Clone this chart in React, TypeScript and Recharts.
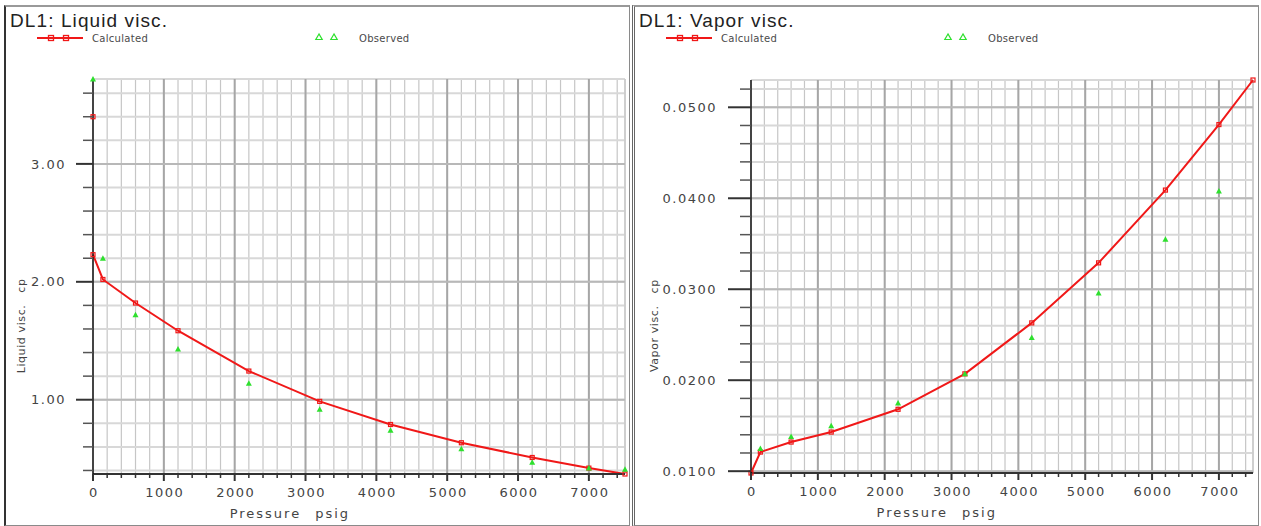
import React from 'react';
import { ComposedChart, Line, XAxis, YAxis, CartesianGrid, ReferenceLine } from 'recharts';

// pressure stations, psig
const PRESSURES = [0, 140, 600, 1200, 2200, 3200, 4200, 5200, 6200, 7000, 7510];

// liquid viscosity, cp
const LIQ_CALC = [2.23, 2.02, 1.82, 1.585, 1.243, 0.986, 0.79, 0.635, 0.51, 0.42, 0.37];
const LIQ_OBS = [3.72, 2.2, 1.72, 1.43, 1.14, 0.92, 0.74, 0.585, 0.47, 0.42, 0.41];
const LIQ_STOCK = 3.4; // calculated value at 0 psig, not joined to the curve

// vapor viscosity, cp
const VAP_CALC = [0.0098, 0.0121, 0.0132, 0.0143, 0.0168, 0.0207, 0.0263, 0.0329, 0.0409, 0.0481, 0.053];
const VAP_OBS = [null, 0.0125, 0.0138, 0.015, 0.0175, 0.0207, 0.0247, 0.0296, 0.0355, 0.0408, null];

// labelled ticks
const P_LABELS = [0, 1000, 2000, 3000, 4000, 5000, 6000, 7000];
const LIQ_LABELS = [1, 2, 3];
const VAP_LABELS = [0.01, 0.02, 0.03, 0.04, 0.05];

const range = (from: number, count: number, step: number) =>
  Array.from({ length: count }, (_, i) => +(from + i * step).toFixed(6));

// minor tick / grid positions
const P_TICKS = range(0, 38, 200); // 0 .. 7400
const LIQ_TICKS = range(0.4, 17, 0.2); // 0.4 .. 3.6
const VAP_TICKS = range(0.01, 22, 0.002); // 0.010 .. 0.052

const liqRows = PRESSURES.map((p, i) => ({
  p,
  calc: LIQ_CALC[i],
  obs: LIQ_OBS[i],
  stock: i === 0 ? LIQ_STOCK : null,
}));
const vapRows = PRESSURES.map((p, i) => ({ p, calc: VAP_CALC[i], obs: VAP_OBS[i] }));

const RED = '#f01818';
const GREEN = '#2ee02e';
const TICK_FONT = { fontFamily: 'DejaVu Sans', fontSize: 13, letterSpacing: 1.5, fill: '#444' };
const LEGEND_FONT = { fontFamily: 'DejaVu Sans', fontSize: 10, letterSpacing: 0.3, fill: '#4a4a4a' };

const isIn = (list: number[], v: number) => list.some((l) => Math.abs(l - v) < 1e-9);

const SquareDot = (props: any) => {
  const { cx, cy, index } = props;
  if (cx == null || cy == null) return <g key={`s${index}`} />;
  return (
    <rect key={`s${index}`} x={cx - 2} y={cy - 2} width={4} height={4}
      fill="none" stroke={RED} strokeWidth={1.2} />
  );
};

const TriangleDot = (props: any) => {
  const { cx, cy, index } = props;
  if (cx == null || cy == null) return <g key={`t${index}`} />;
  return (
    <polygon key={`t${index}`}
      points={`${cx},${cy - 3} ${cx - 3},${cy + 2.5} ${cx + 3},${cy + 2.5}`} fill={GREEN} />
  );
};

const XTick = (props: any) => {
  const { x, y, payload } = props;
  const major = isIn(P_LABELS, payload.value);
  return (
    <g>
      <line x1={x} x2={x} y1={y} y2={y + (major ? 7 : 4)} stroke="#333" strokeWidth={major ? 2 : 1.5} />
      {major && (
        <text x={x + 1} y={y + 23} textAnchor="middle" style={TICK_FONT}>
          {payload.value}
        </text>
      )}
    </g>
  );
};

const makeYTick = (labels: number[], digits: number, majorLen: number, minorLen: number, gap: number) =>
  (props: any) => {
    const { x, y, payload } = props;
    const major = isIn(labels, payload.value);
    return (
      <g>
        <line x1={x - (major ? majorLen : minorLen)} x2={x} y1={y} y2={y}
          stroke={major ? '#333' : '#555'} strokeWidth={major ? 2 : 1.5} />
        {major && (
          <text x={x - gap} y={y} dy="0.36em" textAnchor="end" style={TICK_FONT}>
            {payload.value.toFixed(digits)}
          </text>
        )}
      </g>
    );
  };

const yTitle = (name: string) => (props: any) => {
  const { viewBox } = props;
  const cx = viewBox.x + 21;
  const cy = viewBox.y + viewBox.height * 0.625;
  return (
    <text x={cx} y={cy} transform={`rotate(-90 ${cx} ${cy})`} textAnchor="middle" dominantBaseline="central"
      style={{ fontFamily: 'DejaVu Sans', fontSize: 11, letterSpacing: 0.6, fill: '#444' }}>
      {name}
      <tspan dx={12}>cp</tspan>
    </text>
  );
};

const xTitle = (props: any) => {
  const { viewBox } = props;
  const cx = viewBox.x + viewBox.width * 0.37;
  return (
    <text x={cx} y={viewBox.y + 44} textAnchor="middle"
      style={{ fontFamily: 'DejaVu Sans', fontSize: 13, letterSpacing: 2, fill: '#444' }}>
      Pressure
      <tspan dx={14}>psig</tspan>
    </text>
  );
};

interface PanelCfg {
  left: number;
  width: number;
  top: number;
  right: number;
  yWidth: number;
  xHeight: number;
  rows: any[];
  yTicks: number[];
  yLabels: number[];
  digits: number;
  majorLen: number;
  minorLen: number;
  gap: number;
  name: string;
  stock?: boolean;
}

const Panel = ({ cfg }: { cfg: PanelCfg }) => {
  const YTick = makeYTick(cfg.yLabels, cfg.digits, cfg.majorLen, cfg.minorLen, cfg.gap);
  return (
    <div style={{ position: 'absolute', left: cfg.left, top: 0 }}>
      <ComposedChart width={cfg.width} height={526} data={cfg.rows}
        margin={{ top: cfg.top, right: cfg.right, bottom: 0, left: 0 }}>
        <CartesianGrid horizontal={false} stroke="#c6c6c6" strokeWidth={1.2} />
        <CartesianGrid vertical={false} stroke="#d8d8d8" strokeWidth={2} />
        {P_LABELS.slice(1).map((v) => (
          <ReferenceLine key={`x${v}`} x={v} stroke="#a6a6a6" strokeWidth={2} />
        ))}
        <ReferenceLine x={PRESSURES[PRESSURES.length - 1]} stroke="#c6c6c6" strokeWidth={1.2} />
        {cfg.yLabels.map((v) => (
          <ReferenceLine key={`y${v}`} y={v} stroke="#b8b8b8" strokeWidth={2} />
        ))}
        <XAxis dataKey="p" type="number" domain={[0, 'dataMax']} ticks={P_TICKS} interval={0}
          height={cfg.xHeight} tickSize={0} tickMargin={0} tickLine={false} tick={XTick}
          axisLine={{ stroke: '#333', strokeWidth: 2 }} label={xTitle} />
        <YAxis type="number" domain={['dataMin', 'dataMax']} ticks={cfg.yTicks} interval={0}
          width={cfg.yWidth} tickSize={0} tickMargin={0} tickLine={false} tick={YTick}
          axisLine={{ stroke: '#111', strokeWidth: 1.5 }} label={yTitle(cfg.name)} />
        <Line dataKey="calc" type="linear" stroke={RED} strokeWidth={2} dot={SquareDot}
          activeDot={false} connectNulls isAnimationActive={false} />
        <Line dataKey="obs" stroke="none" dot={TriangleDot} activeDot={false} isAnimationActive={false} />
        {cfg.stock && (
          <Line dataKey="stock" stroke="none" dot={SquareDot} activeDot={false} isAnimationActive={false} />
        )}
      </ComposedChart>
    </div>
  );
};

const Header = ({ dx, title }: { dx: number; title: string }) => (
  <g transform={`translate(${dx},0)`}>
    <text x={10} y={26.5}
      style={{ fontFamily: 'Liberation Sans', fontSize: 19, letterSpacing: 1.1, fill: '#222' }}>
      {title}
    </text>
    <line x1={37} x2={83} y1={38} y2={38} stroke={RED} strokeWidth={2} />
    <rect x={48.5} y={35.5} width={5} height={5} fill="none" stroke={RED} strokeWidth={1.3} />
    <rect x={63.5} y={35.5} width={5} height={5} fill="none" stroke={RED} strokeWidth={1.3} />
    <text x={92} y={38} dy="0.36em" style={LEGEND_FONT}>Calculated</text>
    {[319, 334].map((x) => (
      <polygon key={x} points={`${x},${34} ${x - 3.2},${39.5} ${x + 3.2},${39.5}`}
        fill="none" stroke={GREEN} strokeWidth={1.2} />
    ))}
    <text x={359} y={38} dy="0.36em" style={LEGEND_FONT}>Observed</text>
  </g>
);

export default function App() {
  return (
    <div style={{ position: 'fixed', left: 0, top: 0, width: 1261, height: 526, background: '#fff', overflow: 'hidden' }}>
      <div style={{
        position: 'absolute', left: 4, top: 5, width: 626, height: 521, boxSizing: 'border-box',
        border: '1px solid #8a8a8a', borderTop: '2px solid #999', borderLeft: '2px solid #333',
      }} />
      <div style={{
        position: 'absolute', left: 632, top: 5, width: 627, height: 521, boxSizing: 'border-box',
        border: '1px solid #8a8a8a', borderTop: '2px solid #999', borderLeft: '3px double #666',
      }} />
      <Panel cfg={{
        left: 0, width: 628, top: 79, right: 3, yWidth: 93, xHeight: 52, rows: liqRows,
        yTicks: LIQ_TICKS, yLabels: LIQ_LABELS, digits: 2, majorLen: 17, minorLen: 10, gap: 27,
        name: 'Liquid visc.', stock: true,
      }} />
      <Panel cfg={{
        left: 633, width: 625, top: 80, right: 5, yWidth: 118, xHeight: 53, rows: vapRows,
        yTicks: VAP_TICKS, yLabels: VAP_LABELS, digits: 4, majorLen: 23, minorLen: 11, gap: 34,
        name: 'Vapor visc.',
      }} />
      <svg width={1261} height={60} style={{ position: 'absolute', left: 0, top: 0, pointerEvents: 'none' }}>
        <Header dx={0} title="DL1: Liquid visc." />
        <Header dx={629} title="DL1: Vapor visc." />
      </svg>
    </div>
  );
}
